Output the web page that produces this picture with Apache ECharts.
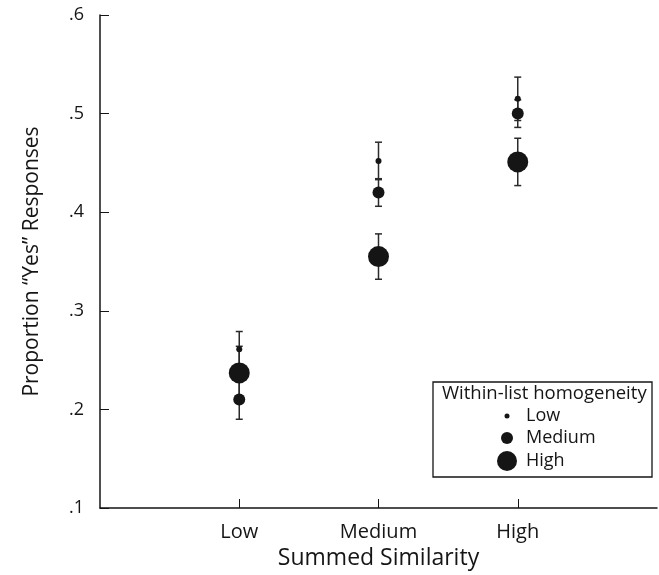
<!DOCTYPE html>
<html>
<head>
    <meta charset="utf-8">
    <title>Summed Similarity</title>
    <script src="https://cdn.jsdelivr.net/npm/echarts@6/dist/echarts.min.js"></script>
    <style type="text/css">
        body { margin: 0; background: #fff; }
        #main { width: 659px; height: 575px; }
    </style>
</head>
<body>
    <div id="main"></div>

    <script type="text/javascript">
        // summed similarity levels on the x axis
        var categories = ['Low', 'Medium', 'High'];
        var yTicks = ['.1', '.2', '.3', '.4', '.5', '.6'];

        // within-list homogeneity: mean and half-width of error bar
        var lowMean = [0.261, 0.452, 0.515];
        var lowErr = [0.018, 0.019, 0.022];
        var medMean = [0.210, 0.420, 0.500];
        var medErr = [0.020, 0.014, 0.014];
        var highMean = [0.237, 0.355, 0.451];
        var highErr = [0.027, 0.023, 0.024];

        var groups = [
            { name: 'Low', mean: lowMean, err: lowErr, size: 6, legendSize: 5, legendTop: 407 },
            { name: 'Medium', mean: medMean, err: medErr, size: 12, legendSize: 12, legendTop: 429 },
            { name: 'High', mean: highMean, err: highErr, size: 21, legendSize: 20, legendTop: 451 }
        ];

        var font = '"Open Sans", "Noto Sans", sans-serif';
        var ink = '#151515';
        var chart = echarts.init(document.getElementById('main'));

        function errorBars(api) {
            var x = api.value(0);
            var lo = api.coord([x, api.value(1) - api.value(2)]);
            var hi = api.coord([x, api.value(1) + api.value(2)]);
            var w = 3.5;
            var style = { stroke: '#2a2a2a', lineWidth: 1.5 };
            return {
                type: 'group',
                children: [
                    { type: 'line', shape: { x1: lo[0], y1: lo[1], x2: hi[0], y2: hi[1] }, style: style },
                    { type: 'line', shape: { x1: lo[0] - w, y1: lo[1], x2: lo[0] + w, y2: lo[1] }, style: style },
                    { type: 'line', shape: { x1: hi[0] - w, y1: hi[1], x2: hi[0] + w, y2: hi[1] }, style: style }
                ]
            };
        }

        var series = [];
        groups.forEach(function (g) {
            series.push({
                type: 'custom',
                renderItem: function (params, api) { return errorBars(api); },
                data: g.mean.map(function (m, i) { return [i + 1, m, g.err[i]]; }),
                z: 1,
                silent: true
            });
        });
        groups.forEach(function (g) {
            series.push({
                name: g.name,
                type: 'scatter',
                symbol: 'circle',
                symbolSize: g.size,
                itemStyle: { color: ink, opacity: 1 },
                data: g.mean.map(function (m, i) { return [i + 1, m]; }),
                z: 3
            });
        });

        // one legend per item so each marker keeps its own size
        var legends = groups.map(function (g) {
            return {
                data: [g.name],
                left: 507 - g.legendSize / 2,
                top: g.legendTop,
                padding: 0,
                icon: 'circle',
                itemWidth: g.legendSize,
                itemHeight: g.legendSize,
                itemGap: 0,
                selectedMode: false,
                textStyle: {
                    fontFamily: font, fontSize: 18, color: ink,
                    padding: [0, 0, 0, 14 - g.legendSize / 2]
                }
            };
        });

        var option = {
            animation: false,
            grid: { left: 100, right: 2, top: 15, bottom: 67 },
            xAxis: {
                type: 'value',
                min: 0,
                max: 4,
                interval: 1,
                name: 'Summed Similarity',
                nameLocation: 'middle',
                nameGap: 35,
                nameTextStyle: { fontFamily: font, fontSize: 23, color: ink },
                axisLine: { lineStyle: { color: ink, width: 1.5 } },
                axisTick: { inside: true, length: 9, lineStyle: { color: ink } },
                axisLabel: {
                    fontFamily: font, fontSize: 20, color: ink, margin: 14,
                    showMinLabel: false, showMaxLabel: false,
                    formatter: function (v) { return categories[v - 1] || ''; }
                },
                splitLine: { show: false }
            },
            yAxis: {
                type: 'value',
                min: 0.1,
                max: 0.6,
                interval: 0.1,
                name: 'Proportion \u201CYes\u201D Responses',
                nameLocation: 'middle',
                nameGap: 57,
                nameTextStyle: { fontFamily: font, fontSize: 21, color: ink },
                axisLine: { lineStyle: { color: ink, width: 1.5 } },
                axisTick: { inside: true, length: 9, lineStyle: { color: ink } },
                axisLabel: {
                    fontFamily: font, fontSize: 18, color: ink, margin: 16,
                    formatter: function (v) { return yTicks[Math.round(v * 10) - 1]; }
                },
                splitLine: { show: false }
            },
            legend: legends,
            graphic: [
                {
                    type: 'rect',
                    shape: { x: 433, y: 382, width: 219, height: 95 },
                    style: { fill: '#fff', stroke: ink, lineWidth: 1.3 },
                    z: 0
                },
                {
                    type: 'text',
                    left: 442,
                    top: 384,
                    style: { text: 'Within-list homogeneity', fontFamily: font, fontSize: 18.5, fill: ink },
                    z: 1
                }
            ],
            series: series
        };
        chart.setOption(option);
    </script>
</body>
</html>
